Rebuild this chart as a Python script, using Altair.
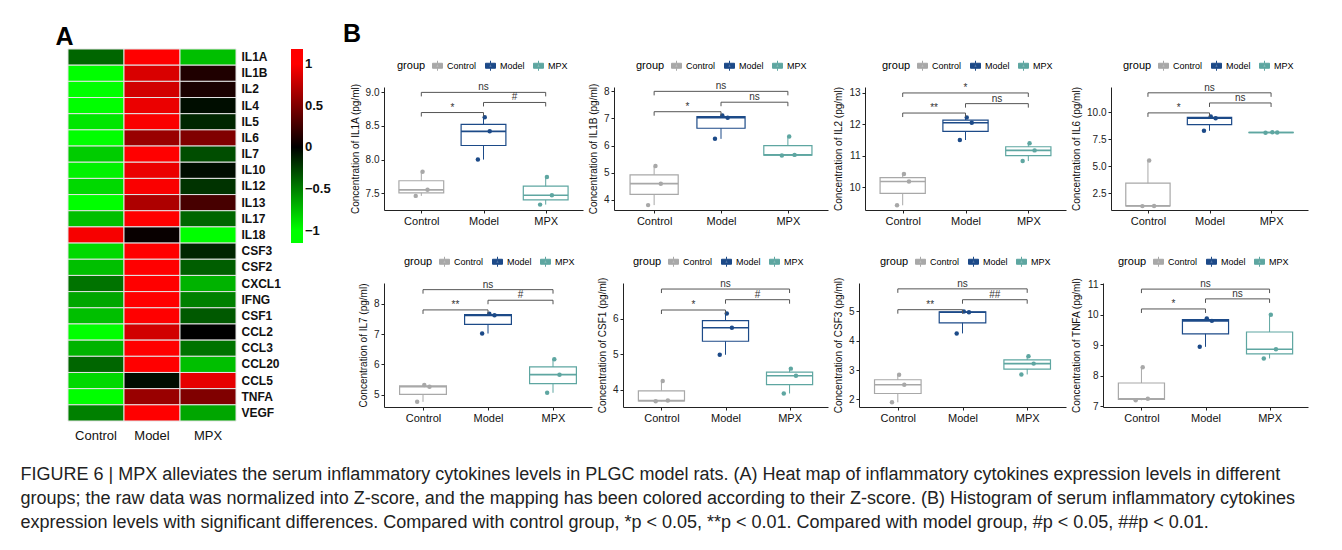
import json
import altair as alt
import pandas as pd

# ---------------- data ----------------
GROUPS = ["Control", "Model", "MPX"]
GROUP_COLORS = ["#A8A8A8", "#1C4A88", "#5EA6A1"]

CYTOKINES = ["IL1A", "IL1B", "IL2", "IL4", "IL5", "IL6", "IL7", "IL10", "IL12", "IL13",
             "IL17", "IL18", "CSF3", "CSF2", "CXCL1", "IFNG", "CSF1", "CCL2", "CCL3",
             "CCL20", "CCL5", "TNFA", "VEGF"]
Z_CONTROL = [-0.40, -1.10, -1.10, -1.00, -0.90, -1.12, -0.80, -0.95, -0.85, -1.00,
             -0.75, 0.97, -0.85, -0.75, -0.45, -0.65, -0.75, -1.00, -0.70, -0.40,
             -0.85, -1.15, -0.50]
Z_MODEL = [1.15, 0.85, 0.82, 0.92, 0.98, 0.60, 1.10, 0.92, 0.98, 0.68,
           1.15, 0.03, 1.00, 1.12, 1.15, 1.15, 1.10, 0.82, 1.15, 1.15,
           -0.05, 0.60, 1.15]
Z_MPX = [-0.75, 0.12, 0.10, -0.05, -0.15, 0.50, -0.30, -0.05, -0.20, 0.28,
         -0.40, -1.00, -0.15, -0.37, -0.70, -0.50, -0.35, 0.00, -0.45, -0.75,
         0.90, 0.50, -0.65]

PANEL_NAMES = ["IL1A", "IL1B", "IL2", "IL6", "IL7", "CSF1", "CSF3", "TNFA"]
IL1A = [[7.46, 7.55, 7.82], [8.00, 8.42, 8.63], [7.33, 7.47, 7.74]]
IL1B = [[3.81, 4.60, 5.25], [6.25, 7.03, 7.11], [5.64, 5.66, 6.34]]
IL2 = [[9.42, 10.18, 10.42], [11.50, 12.05, 12.22], [10.83, 11.17, 11.40]]
IL6 = [[1.30, 1.32, 5.53], [8.28, 9.44, 9.60], [8.10, 8.12, 8.14]]
IL7 = [[4.76, 5.26, 5.32], [7.02, 7.62, 7.67], [5.06, 5.66, 6.17]]
CSF1 = [[3.68, 3.70, 4.25], [4.99, 5.75, 6.15], [3.90, 4.40, 4.60]]
CSF3 = [[1.90, 2.50, 2.84], [4.25, 4.97, 5.00], [2.85, 3.22, 3.47]]
TNFA = [[7.20, 7.25, 8.28], [8.95, 9.80, 9.88], [8.57, 8.87, 10.00]]
PANEL_VALUES = [IL1A, IL1B, IL2, IL6, IL7, CSF1, CSF3, TNFA]

BRACKET_FROM = ["Control", "Model", "Control"]
BRACKET_TO = ["MPX", "MPX", "Model"]
SIG_Y = [[9.00, 8.85, 8.70], [8.00, 7.60, 7.25], [13.00, 12.66, 12.36], [11.80, 10.86, 9.94],
         [8.47, 8.12, 7.80], [6.84, 6.54, 6.25], [5.77, 5.40, 5.06], [10.84, 10.52, 10.19]]
SIG_LABELS = [["ns", "#", "*"], ["ns", "ns", "*"], ["*", "ns", "**"], ["ns", "ns", "*"],
              ["ns", "#", "**"], ["ns", "#", "*"], ["ns", "##", "**"], ["ns", "ns", "*"]]

Y_RANGES = [[7.25, 9.08], [3.63, 8.16], [9.27, 13.19], [0.94, 12.34],
            [4.59, 8.69], [3.52, 7.01], [1.74, 5.97], [6.98, 11.04]]
Y_TICKS = [[7.5, 8.0, 8.5, 9.0], [4, 5, 6, 7, 8], [10, 11, 12, 13], [2.5, 5.0, 7.5, 10.0],
           [5, 6, 7, 8], [4, 5, 6], [2, 3, 4, 5], [7, 8, 9, 10, 11]]
Y_FORMATS = [".1f", "d", "d", ".1f", "d", "d", "d", "d"]

CAPTION = [
    "FIGURE 6 | MPX alleviates the serum inflammatory cytokines levels in PLGC model rats. (A) Heat map of inflammatory cytokines expression levels in different",
    "groups; the raw data was normalized into Z-score, and the mapping has been colored according to their Z-score. (B) Histogram of serum inflammatory cytokines",
    "expression levels with significant differences. Compared with control group, *p < 0.05, **p < 0.01. Compared with model group, #p < 0.05, ##p < 0.01.",
]

# ---------------- style ----------------
FONT = "Liberation Sans"
PANEL_W = [199, 214, 201, 197, 208, 205, 207, 205]
PANEL_H = [123, 123, 123, 123, 124, 124, 124, 124]
LEG_X = [13, 22, 17, 12, 20, 10, 21, 15]
JITTER = [-0.09, 0.10, 0.02]
BOX_HALF = 0.36
BR_COLOR = "#555555"
BOX_PATH = ("M-1,-0.5H1V0.5H-1Z M0,-0.5V-1 M0,0.5V1 M-1,0H1 "
            "M-0.22,0A0.22,0.22,0,1,0,0.22,0A0.22,0.22,0,1,0,-0.22,0")
IDX = "indexof(" + json.dumps(GROUPS) + ", datum.{f}) + 1"
LABEL_EXPR = json.dumps(GROUPS) + "[datum.value - 1]"


def make_legend(i):
    return alt.Legend(title="group", orient="none", legendX=LEG_X[i], legendY=-27,
                      direction="horizontal", titleOrient="left",
                      titleFontSize=11, titleFontWeight="normal", titleColor="black",
                      titlePadding=6, labelFontSize=9, labelColor="black", labelOffset=4,
                      symbolType=BOX_PATH, symbolSize=100, symbolStrokeWidth=1,
                      symbolFillColor="white", columnPadding=6)


def make_panel(i):
    name = PANEL_NAMES[i]
    rows = []
    for g, vals in zip(GROUPS, PANEL_VALUES[i]):
        for k, v in enumerate(sorted(vals)):
            rows.append({"group": g, "value": v, "k": k})
    pts = pd.DataFrame(rows)
    br = pd.DataFrame({"start": BRACKET_FROM, "end": BRACKET_TO,
                       "y": SIG_Y[i], "label": SIG_LABELS[i]})

    xs = alt.Scale(domain=[0.4, 3.6], nice=False, zero=False)
    ys = alt.Scale(domain=Y_RANGES[i], nice=False, zero=False)
    xa = alt.Axis(values=[1, 2, 3], labelExpr=LABEL_EXPR, title=None, grid=False,
                  labelFontSize=11, labelColor="#111")
    ya = alt.Axis(values=Y_TICKS[i], format=Y_FORMATS[i], grid=False,
                  title=f"Concentration of {name} (pg/ml)")

    def X(f):
        return alt.X(f, type="quantitative", scale=xs, axis=xa)

    def Y(f):
        return alt.Y(f, type="quantitative", scale=ys, axis=ya)

    cs = alt.Scale(domain=GROUPS, range=GROUP_COLORS)
    col = alt.Color("group:N", scale=cs, legend=None)
    col_leg = alt.Color("group:N", scale=cs, legend=make_legend(i))
    stroke_enc = alt.Stroke("group:N", scale=cs, legend=None)

    base = alt.Chart(pts).transform_calculate(gx=IDX.format(f="group"))
    stats = base.transform_aggregate(
        lo="min(value)", q1="q1(value)", med="median(value)", q3="q3(value)",
        hi="max(value)", groupby=["group", "gx"]
    ).transform_calculate(bl=f"datum.gx - {BOX_HALF}", br=f"datum.gx + {BOX_HALF}")

    whisker = stats.mark_rule(strokeWidth=1).encode(x=X("gx"), y=Y("lo"), y2="hi:Q", color=col_leg)
    box = stats.mark_bar(fill="white", strokeWidth=1.2).encode(
        x=X("bl"), x2="br:Q", y=Y("q1"), y2="q3:Q", stroke=stroke_enc)
    med = stats.mark_rule(strokeWidth=1.6).encode(x=X("bl"), x2="br:Q", y=Y("med"), color=col)
    dots = base.transform_calculate(
        px="datum.gx + " + json.dumps(JITTER) + "[datum.k]"
    ).mark_circle(size=20, opacity=1).encode(x=X("px"), y=Y("value"), color=col)

    brb = alt.Chart(br).transform_calculate(
        x1=IDX.format(f="start"), x2=IDX.format(f="end")
    ).transform_calculate(xm="(datum.x1 + datum.x2) / 2")
    hline = brb.mark_rule(color=BR_COLOR, strokeWidth=1).encode(x=X("x1"), x2="x2:Q", y=Y("y"))
    ticks = brb.transform_fold(["x1", "x2"], as_=["side", "ex"]).mark_rule(
        color=BR_COLOR, strokeWidth=1, y2Offset=4).encode(x=X("ex"), y=Y("y"), y2="y:Q")
    labels = brb.mark_text(fontSize=10, baseline="alphabetic", dy=-2, color="#333").encode(
        x=X("xm"), y=Y("y"), text="label:N")

    return alt.layer(whisker, box, med, dots, hline, ticks, labels).properties(
        width=PANEL_W[i], height=PANEL_H[i])


# ---------------- heatmap ----------------
hm = pd.DataFrame({
    "cytokine": CYTOKINES * 3,
    "group": [g for g in GROUPS for _ in CYTOKINES],
    "z": Z_CONTROL + Z_MODEL + Z_MPX,
})
heat = alt.Chart(hm).mark_rect(stroke="#e4e4e4", strokeWidth=1).encode(
    x=alt.X("group:N", sort=GROUPS, scale=alt.Scale(paddingInner=0, paddingOuter=0),
            axis=alt.Axis(orient="bottom", title=None, labelAngle=0, ticks=False, domain=False,
                          labelFontSize=13, labelPadding=8, labelColor="#111")),
    y=alt.Y("cytokine:N", sort=CYTOKINES, scale=alt.Scale(paddingInner=0, paddingOuter=0),
            axis=alt.Axis(orient="right", title=None, ticks=False, domain=False,
                          labelFontSize=12, labelFontWeight="bold", labelPadding=5,
                          labelColor="#111")),
    color=alt.Color("z:Q",
                    scale=alt.Scale(domain=[-1.15, -1, 0, 1, 1.18],
                                    range=["#00ff00", "#00ff00", "#000000", "#ff0000", "#ff0000"],
                                    interpolate="rgb"),
                    legend=alt.Legend(title=None, orient="right", gradientLength=194,
                                      gradientThickness=12, gradientStrokeWidth=0,
                                      values=[-1, -0.5, 0, 0.5, 1], format="~g",
                                      labelFontSize=13, labelFontWeight="bold",
                                      labelColor="#111", labelOverlap=False, offset=10)),
).properties(width=168, height=372,
             title=alt.Title("A", anchor="start", fontSize=25, fontWeight="bold",
                             baseline="alphabetic", offset=3, dy=24, dx=-12, color="black"))

# invisible block that sets the gap between the top of panel B and its first row
spacer = alt.Chart(pd.DataFrame({"s": [0]})).mark_point(opacity=0).encode(
    x=alt.value(0), y=alt.value(0)).properties(width=10, height=11)

row1 = alt.hconcat(*[make_panel(i) for i in range(4)], spacing=5).resolve_scale(
    color="independent", stroke="independent")
row2 = alt.hconcat(*[make_panel(i) for i in range(4, 8)], spacing=5).resolve_scale(
    color="independent", stroke="independent")
top_block = alt.vconcat(spacer, row1, spacing=0).resolve_scale(
    color="independent", stroke="independent")
right = alt.vconcat(top_block, row2, spacing=30,
                    title=alt.Title("B", anchor="start", fontSize=25, fontWeight="bold",
                                    baseline="alphabetic", offset=3, dy=24, dx=-7, color="black")
                    ).resolve_scale(color="independent", stroke="independent")

chart = alt.hconcat(
    heat, right, spacing=12,
    title=alt.Title(CAPTION, orient="bottom", anchor="start", fontSize=18, fontWeight="normal",
                    lineHeight=24, offset=24, dx=-35, color="#222", baseline="top", font=FONT),
).resolve_scale(color="independent", stroke="independent").properties(
    padding={"left": 12, "top": 14, "right": 5, "bottom": 5}
).configure(font=FONT).configure_view(stroke=None).configure_axis(
    domainColor="#222", tickColor="#222", labelColor="#222", titleColor="#111",
    labelFontSize=10, titleFontSize=10, titleFontWeight="normal", tickSize=3,
    labelPadding=2, titlePadding=5, domainWidth=1, tickWidth=1
)

chart.save("out.html", embed_options={"renderer": "svg", "actions": False})
